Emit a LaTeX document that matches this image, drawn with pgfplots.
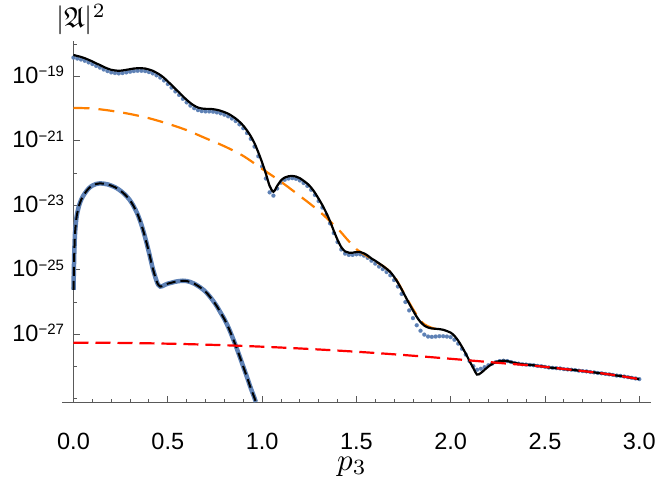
\documentclass[border=0pt]{standalone}
\usepackage{fontspec}
\setmainfont{Liberation Sans}
\usepackage{amssymb}
\usepackage{pgfplots}
\usepackage{pgfplotstable}
\pgfplotsset{compat=1.18}
\definecolor{mblue}{RGB}{94,129,181}
\definecolor{morange}{RGB}{255,128,0}
\definecolor{mred}{RGB}{255,0,0}
\definecolor{axgray}{gray}{0.35}
\newcommand\tp[1]{10\raisebox{6.5pt}{\fontsize{15}{15}\selectfont −#1}}

% log10 values of |A|^2
\pgfplotstableread{
x k b
0.00 -18.34 -18.42
0.02 -18.37 -18.45
0.04 -18.40 -18.48
0.06 -18.44 -18.52
0.08 -18.49 -18.57
0.10 -18.54 -18.62
0.12 -18.60 -18.68
0.14 -18.65 -18.73
0.16 -18.71 -18.79
0.18 -18.76 -18.84
0.20 -18.80 -18.88
0.22 -18.82 -18.90
0.24 -18.83 -18.91
0.26 -18.82 -18.90
0.28 -18.80 -18.88
0.30 -18.78 -18.86
0.32 -18.76 -18.84
0.34 -18.75 -18.83
0.36 -18.75 -18.83
0.38 -18.76 -18.84
0.40 -18.79 -18.87
0.42 -18.83 -18.91
0.44 -18.89 -18.97
0.46 -18.96 -19.04
0.48 -19.05 -19.13
0.50 -19.16 -19.24
0.52 -19.27 -19.35
0.54 -19.39 -19.47
0.56 -19.50 -19.58
0.58 -19.62 -19.70
0.60 -19.73 -19.81
0.62 -19.83 -19.91
0.64 -19.91 -19.99
0.66 -19.97 -20.05
0.68 -20.00 -20.08
0.70 -20.01 -20.09
0.72 -20.01 -20.09
0.74 -20.02 -20.10
0.76 -20.04 -20.12
0.78 -20.07 -20.15
0.80 -20.11 -20.19
0.82 -20.16 -20.24
0.84 -20.23 -20.31
0.86 -20.31 -20.39
0.88 -20.41 -20.49
0.90 -20.53 -20.61
0.92 -20.68 -20.76
0.94 -20.86 -20.94
0.96 -21.08 -21.18
0.98 -21.36 -21.48
1.00 -21.67 -21.80
1.02 -22.02 -22.17
1.04 -22.40 -22.60
1.06 -22.58 -22.70
1.08 -22.40 -22.48
1.10 -22.23 -22.30
1.12 -22.14 -22.21
1.14 -22.10 -22.17
1.16 -22.09 -22.16
1.18 -22.11 -22.18
1.20 -22.16 -22.23
1.22 -22.24 -22.31
1.24 -22.33 -22.40
1.26 -22.45 -22.52
1.28 -22.61 -22.68
1.30 -22.80 -22.87
1.32 -23.00 -23.07
1.34 -23.23 -23.30
1.36 -23.49 -23.56
1.38 -23.79 -23.86
1.40 -24.07 -24.14
1.42 -24.30 -24.37
1.44 -24.43 -24.50
1.46 -24.47 -24.54
1.48 -24.47 -24.54
1.50 -24.45 -24.52
1.52 -24.45 -24.52
1.54 -24.49 -24.56
1.56 -24.56 -24.63
1.58 -24.65 -24.72
1.60 -24.72 -24.81
1.62 -24.80 -24.90
1.64 -24.88 -24.98
1.66 -24.97 -25.07
1.68 -25.07 -25.17
1.70 -25.22 -25.32
1.72 -25.40 -25.52
1.74 -25.61 -25.75
1.76 -25.83 -26.00
1.78 -26.05 -26.26
1.80 -26.26 -26.50
1.82 -26.46 -26.72
1.84 -26.62 -26.89
1.86 -26.73 -27.01
1.88 -26.79 -27.07
1.90 -26.82 -27.08
1.92 -26.83 -27.07
1.94 -26.84 -27.06
1.96 -26.86 -27.06
1.98 -26.90 -27.07
2.00 -26.95 -27.09
2.02 -27.05 -27.17
2.04 -27.20 -27.29
2.06 -27.39 -27.45
2.08 -27.60 -27.63
2.10 -27.83 -27.83
2.12 -28.05 -27.99
2.14 -28.25 -28.10
2.16 -28.20 -28.07
2.18 -28.10 -28.02
2.20 -28.00 -27.96
2.22 -27.92 -27.91
2.24 -27.86 -27.86
2.26 -27.83 -27.83
2.28 -27.82 -27.82
2.30 -27.83 -27.83
2.32 -27.86 -27.86
2.34 -27.89 -27.89
2.36 -27.91 -27.91
2.38 -27.93 -27.93
2.40 -27.94 -27.94
2.42 -27.95 -27.95
2.44 -27.96 -27.96
2.46 -27.98 -27.98
2.48 -27.99 -27.99
2.50 -28.01 -28.01
2.52 -28.03 -28.03
2.54 -28.04 -28.04
2.56 -28.05 -28.05
2.58 -28.06 -28.06
2.60 -28.08 -28.08
2.62 -28.09 -28.09
2.64 -28.10 -28.10
2.66 -28.11 -28.11
2.68 -28.13 -28.13
2.70 -28.14 -28.14
2.72 -28.15 -28.15
2.74 -28.17 -28.17
2.76 -28.18 -28.18
2.78 -28.20 -28.20
2.80 -28.21 -28.21
2.82 -28.23 -28.23
2.84 -28.24 -28.24
2.86 -28.26 -28.26
2.88 -28.28 -28.28
2.90 -28.29 -28.29
2.92 -28.31 -28.31
2.94 -28.33 -28.33
2.96 -28.35 -28.35
2.98 -28.37 -28.37
3.00 -28.39 -28.39
}\upper

\pgfplotstableread{
x y
0.00 -19.98
0.10 -20.00
0.20 -20.07
0.30 -20.17
0.40 -20.30
0.50 -20.47
0.60 -20.67
0.70 -20.92
0.80 -21.17
0.90 -21.47
1.00 -21.87
1.10 -22.27
1.20 -22.71
1.30 -23.17
1.40 -23.72
1.45 -24.05
1.50 -24.36
1.55 -24.55
1.60 -24.74
1.65 -24.92
1.70 -25.20
1.75 -25.70
1.80 -26.22
1.85 -26.64
1.90 -26.80
1.95 -26.86
}\orangetab

\pgfplotstableread{
x y
0.0 -27.260
0.2 -27.265
0.4 -27.280
0.6 -27.305
0.8 -27.340
1.0 -27.385
1.2 -27.440
1.4 -27.505
1.6 -27.580
1.8 -27.665
2.0 -27.760
2.1 -27.810
2.2 -27.860
2.3 -27.910
2.4 -27.955
2.5 -28.010
2.6 -28.075
2.7 -28.140
2.8 -28.210
2.9 -28.295
3.0 -28.390
}\redtab

\pgfplotstableread{
x y
0.000 -25.62
0.002 -25.00
0.004 -24.50
0.007 -24.00
0.010 -23.72
0.015 -23.42
0.020 -23.24
0.030 -23.00
0.040 -22.84
0.050 -22.72
0.060 -22.63
0.080 -22.48
0.100 -22.39
0.120 -22.34
0.140 -22.32
0.160 -22.33
0.180 -22.35
0.200 -22.39
0.220 -22.44
0.240 -22.51
0.260 -22.60
0.280 -22.71
0.300 -22.85
0.320 -23.04
0.340 -23.28
0.360 -23.60
0.380 -24.00
0.400 -24.46
0.420 -24.95
0.440 -25.34
0.450 -25.47
0.460 -25.52
0.470 -25.51
0.480 -25.48
0.500 -25.43
0.520 -25.40
0.540 -25.37
0.560 -25.35
0.580 -25.34
0.600 -25.35
0.620 -25.38
0.640 -25.43
0.660 -25.50
0.680 -25.58
0.700 -25.68
0.720 -25.81
0.740 -25.96
0.760 -26.13
0.780 -26.33
0.800 -26.53
0.820 -26.77
0.840 -27.05
0.860 -27.35
0.880 -27.67
0.900 -28.00
0.920 -28.33
0.940 -28.67
0.960 -28.98
0.967 -29.10
}\lowertab

\pgfplotstableread{
x y
0.0005 -25.57
0.002 -25.10
0.004 -24.32
0.007 -23.86
0.008 -23.71
}\lowerdots

\begin{document}
\begin{tikzpicture}
\path[use as bounding box] (-73.5pt,-78pt) rectangle (583.5pt,402pt);
\begin{axis}[
  at={(0,0)}, anchor=south west, scale only axis,
  width=577.1pt, height=361pt,
  xmin=0, xmax=3.06, ymin=-29.1, ymax=-17.906,
  clip=false, clip marker paths=true,
  axis lines*=left,
  axis line style={axgray, line width=0.9pt},
  tick align=inside,
  tick style={axgray, line width=0.9pt},
  major tick length=6pt, minor tick length=3.5pt,
  xtick={0,0.5,1,1.5,2,2.5,3},
  xticklabels={0.0,0.5,1.0,1.5,2.0,2.5,3.0},
  minor xtick={0.1,0.2,0.3,0.4,0.6,0.7,0.8,0.9,1.1,1.2,1.3,1.4,1.6,1.7,1.8,1.9,2.1,2.2,2.3,2.4,2.6,2.7,2.8,2.9},
  ytick={-27,-25,-23,-21,-19},
  yticklabels={\tp{27},\tp{25},\tp{23},\tp{21},\tp{19}},
  minor ytick={-29,-28,-26,-24,-22,-20,-18},
  tick label style={font=\fontsize{23.5}{28}\selectfont, black, inner sep=1pt},
  xticklabel style={yshift=-29.8pt},
  yticklabel style={anchor=base east, yshift=-7pt, xshift=-8.3pt},
]
\coordinate (O) at (axis cs:0,-29.1);
% lower curve
\addplot[mblue, line width=4.5pt, smooth] table[x=x,y=y] {\lowertab};
\addplot[mblue, only marks, mark=*, mark size=2pt, mark options={draw=mblue, fill=mblue, line width=0.1pt}] table[x=x,y=y] {\lowerdots};
\addplot[black, line width=2pt, dash pattern=on 9pt off 5pt, smooth] table[x=x,y=y] {\lowertab};
% upper curves
\addplot[mblue, only marks, mark=*, mark size=2pt, mark options={draw=mblue, fill=mblue, line width=0.1pt}] table[x=x,y=b] {\upper};
\addplot[morange, line width=2.2pt, dash pattern=on 16pt off 9pt, smooth] table[x=x,y=y] {\orangetab};
\addplot[black, line width=2.2pt, smooth] table[x=x,y=k] {\upper};
\addplot[mred, line width=2.2pt, dash pattern=on 15pt off 7pt, smooth] table[x=x,y=y] {\redtab};
\end{axis}
\draw[axgray, line width=0.9pt] (O) -- ++(-11.9pt,0);
\node[scale=3.1, inner sep=0pt] at (278.5pt,-64.5pt) {$p_3$};
\node[scale=2.9, inner sep=0pt, anchor=base] at (7.5pt,374pt) {$|\mathfrak{A}|^2$};
\end{tikzpicture}
\end{document}
